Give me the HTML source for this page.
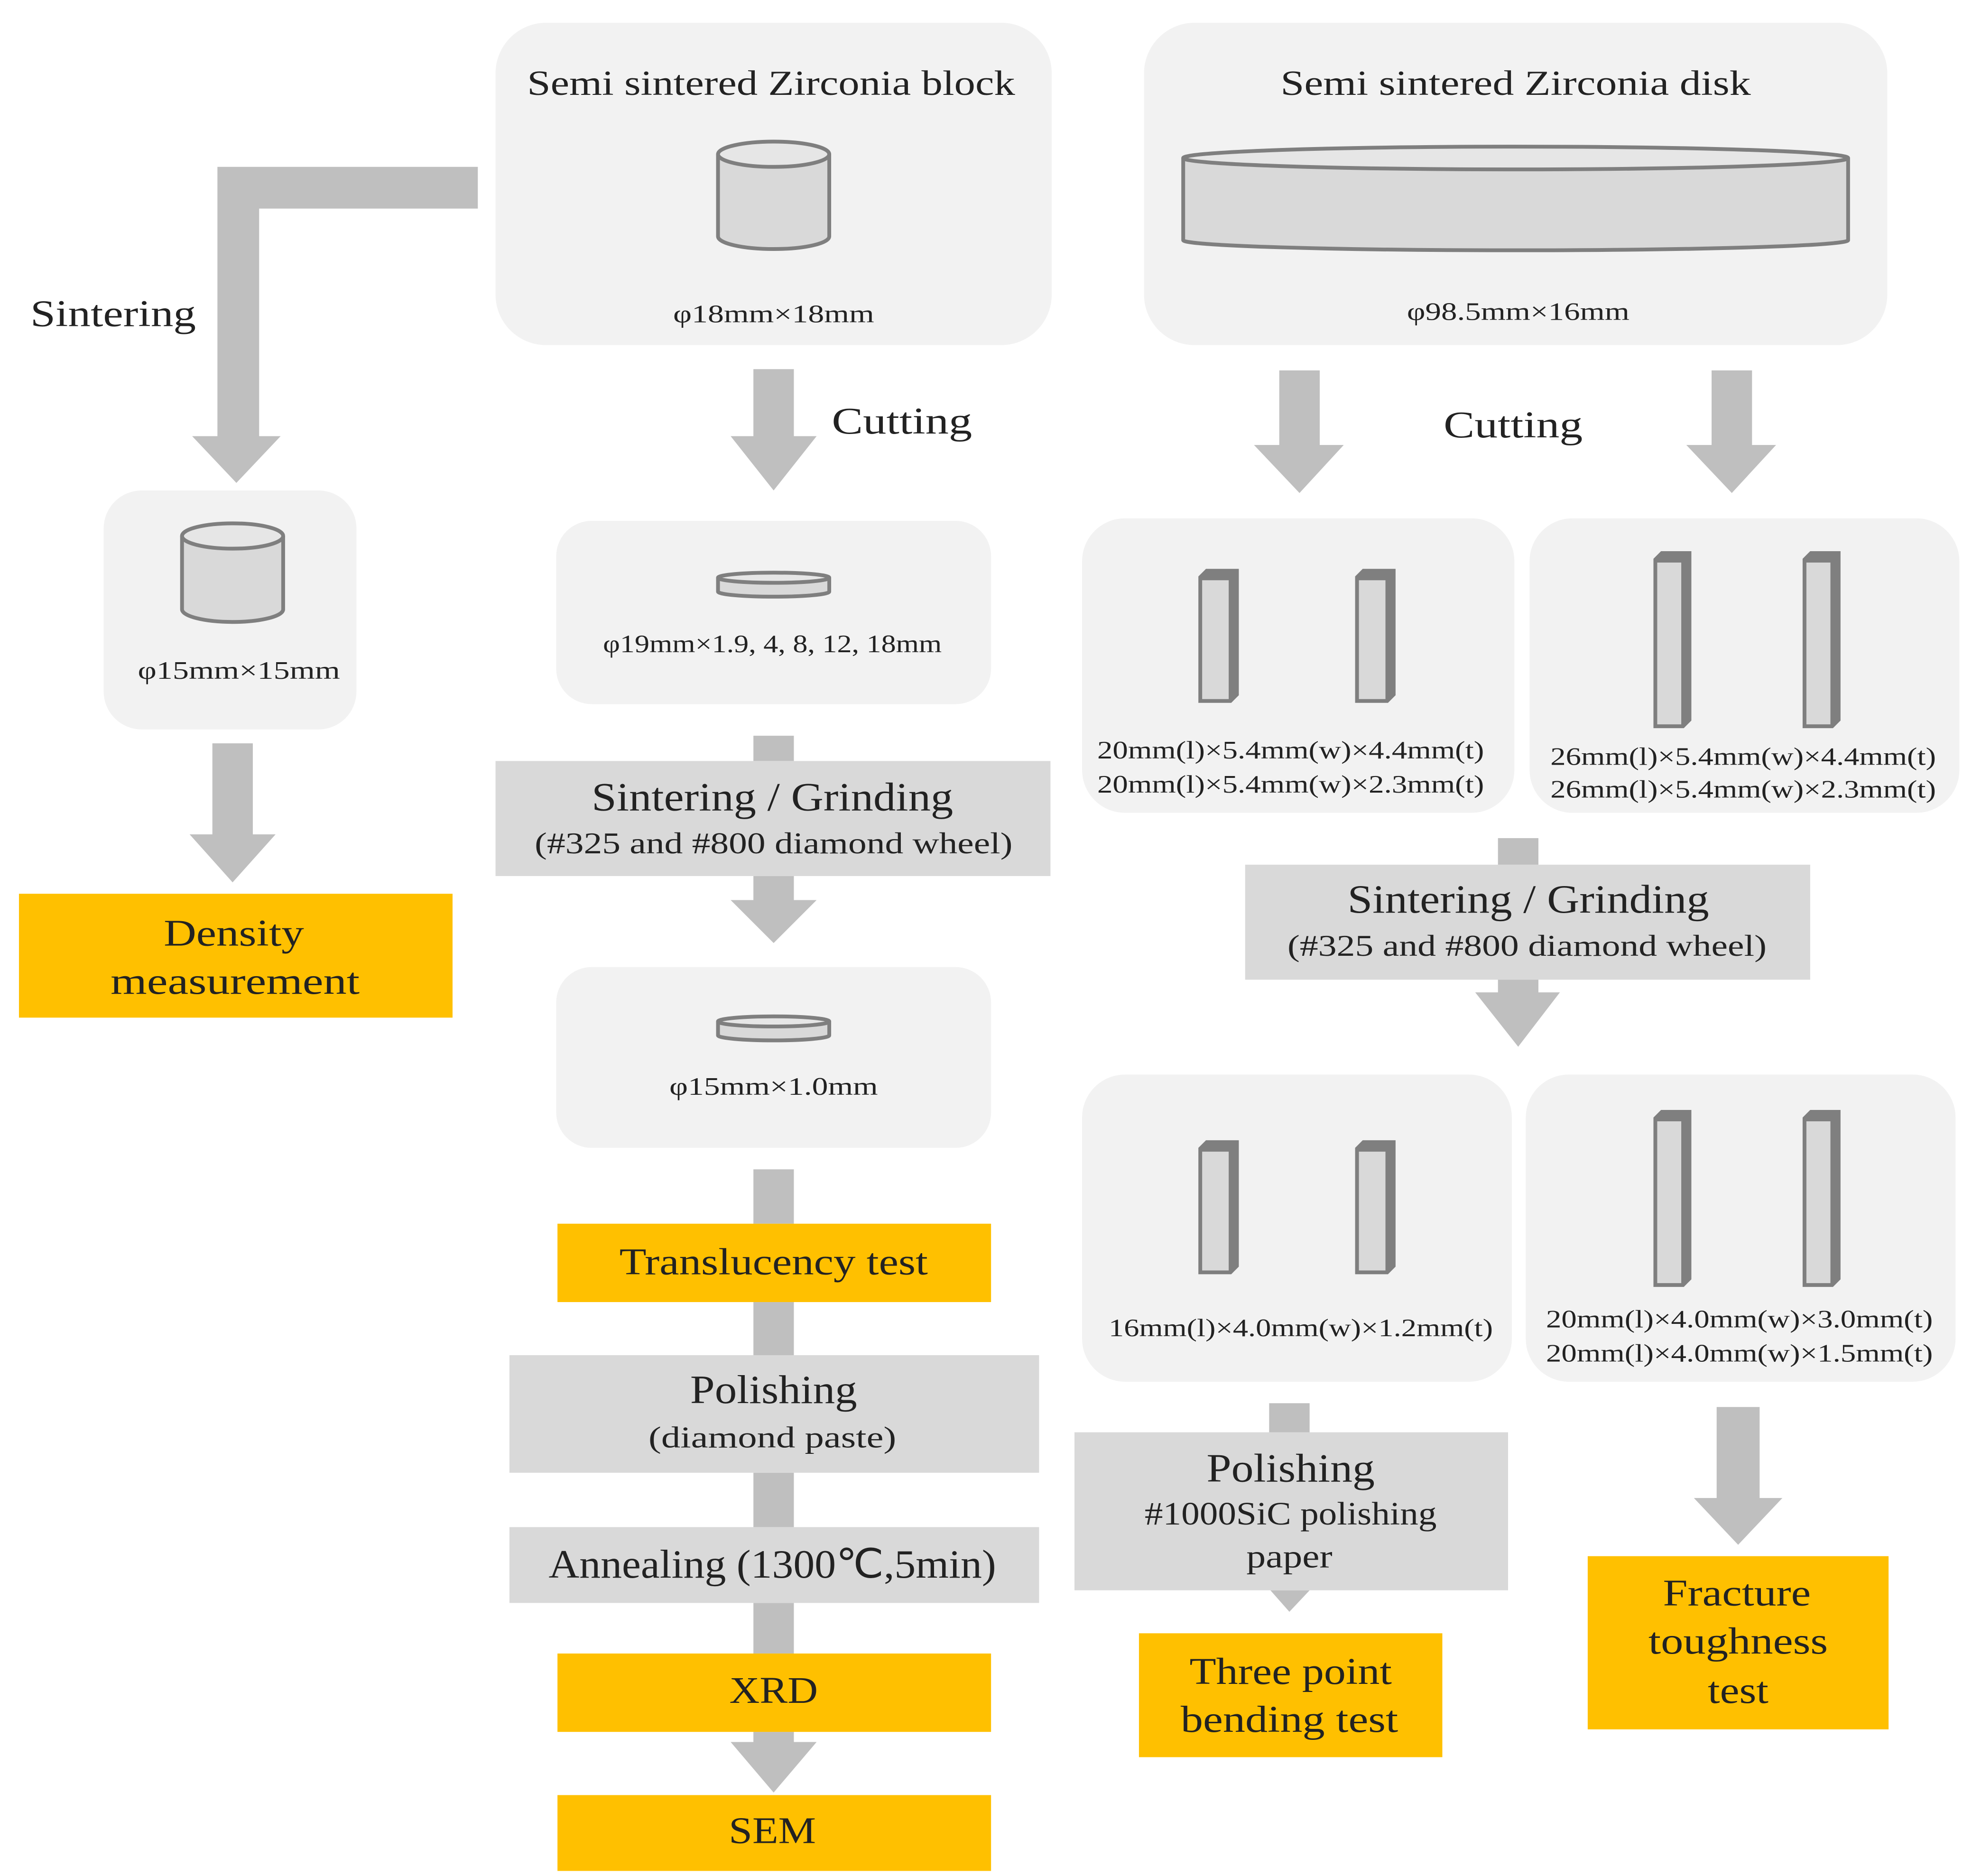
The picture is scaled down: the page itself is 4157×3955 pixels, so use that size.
<!DOCTYPE html>
<html><head><meta charset="utf-8"><style>
html,body{margin:0;padding:0;background:#fff}
svg{display:block}
text{font-family:"Liberation Serif",serif;fill:#222}
</style></head><body>
<svg width="4157" height="3955" viewBox="0 0 1560 1484" preserveAspectRatio="none" xmlns="http://www.w3.org/2000/svg">
<defs>
<g id="bar"><polygon points="0,6 6,0 32,0 32,100 26,106 0,106" fill="#7f7f7f"/><rect x="3" y="9" width="21" height="94" fill="#d9d9d9"/></g>
<g id="barL"><polygon points="0,6 6,0 30,0 30,134 24,140 0,140" fill="#7f7f7f"/><rect x="3" y="9" width="19" height="128" fill="#d9d9d9"/></g>
</defs>
<g fill="#f2f2f2">
<rect x="392" y="18" width="440" height="255" rx="40"/>
<rect x="905" y="18" width="588" height="255" rx="40"/>
<rect x="82" y="388" width="200" height="189" rx="30"/>
<rect x="440" y="412" width="344" height="145" rx="28"/>
<rect x="440" y="765" width="344" height="143" rx="28"/>
<rect x="856" y="410" width="342" height="233" rx="34"/>
<rect x="1210" y="410" width="340" height="233" rx="34"/>
<rect x="856" y="850" width="340" height="243" rx="34"/>
<rect x="1207" y="850" width="340" height="243" rx="34"/>
</g>
<g fill="#bfbfbf">
<path d="M378,132 H172 V345 H152 L187,382 L222,345 H205 V165 H378 Z"/>
<path d="M168,588 H200 V660 H218 L184,698 L150,660 H168 Z"/>
<path d="M596,292 H628 V345 H646 L612,388 L578,345 H596 Z"/>
<rect x="596" y="582" width="32" height="20"/>
<path d="M596,693 H628 V712 H646 L612,746 L578,712 H596 Z"/>
<rect x="596" y="925" width="32" height="43"/>
<rect x="596" y="1030" width="32" height="42"/>
<rect x="596" y="1165" width="32" height="43"/>
<rect x="596" y="1268" width="32" height="40"/>
<path d="M596,1370 H628 V1378 H646 L612,1418 L578,1378 H596 Z"/>
<path d="M1012,293 H1044 V352 H1063 L1028,390 L992,352 H1012 Z"/>
<path d="M1354,293 H1386 V352 H1405 L1370,390 L1334,352 H1354 Z"/>
<rect x="1185" y="663" width="32" height="21"/>
<path d="M1185,775 H1217 V785 H1234 L1201,828 L1167,785 H1185 Z"/>
<rect x="1004" y="1110" width="32" height="23"/>
<path d="M1005,1258 H1036 L1020,1275 Z"/>
<path d="M1358,1113 H1392 V1185 H1410 L1375,1222 L1340,1185 H1358 Z"/>
</g>
<g fill="#d9d9d9">
<rect x="392" y="602" width="439" height="91"/>
<rect x="403" y="1072" width="419" height="93"/>
<rect x="403" y="1208" width="419" height="60"/>
<rect x="985" y="684" width="447" height="91"/>
<rect x="850" y="1133" width="343" height="125"/>
</g>
<g fill="#ffc000">
<rect x="15" y="707" width="343" height="98"/>
<rect x="441" y="968" width="343" height="62"/>
<rect x="441" y="1308" width="343" height="62"/>
<rect x="441" y="1420" width="343" height="60"/>
<rect x="901" y="1292" width="240" height="98"/>
<rect x="1256" y="1231" width="238" height="137"/>
</g>
<g stroke="#7f7f7f" stroke-width="3" fill="#d9d9d9">
<path d="M568,122 V187 A44,10 0 0 0 656,187 V122"/><ellipse cx="612" cy="122" rx="44" ry="10" fill="#e6e6e6"/>
<path d="M144,424 V482 A40,10 0 0 0 224,482 V424"/><ellipse cx="184" cy="424" rx="40" ry="10" fill="#e6e6e6"/>
<path d="M936,125 V190 A263,8 0 0 0 1462,190 V125"/><ellipse cx="1199" cy="125" rx="263" ry="9" fill="#e6e6e6"/>
<path d="M568,457 V468 A44,4 0 0 0 656,468 V457"/><ellipse cx="612" cy="457" rx="44" ry="4" fill="#e6e6e6"/>
<path d="M568,808 V819 A44,4 0 0 0 656,819 V808"/><ellipse cx="612" cy="808" rx="44" ry="4" fill="#e6e6e6"/>
</g>
<use href="#bar" x="948" y="450"/><use href="#bar" x="1072" y="450"/>
<use href="#barL" x="1308" y="436"/><use href="#barL" x="1426" y="436"/>
<use href="#bar" x="948" y="902"/><use href="#bar" x="1072" y="902"/>
<use href="#barL" x="1308" y="878"/><use href="#barL" x="1426" y="878"/>
<g text-anchor="middle" lengthAdjust="spacingAndGlyphs">
<text x="610" y="75" font-size="28" textLength="386" lengthAdjust="spacingAndGlyphs">Semi sintered Zirconia block</text>
<text x="1199" y="75" font-size="28" textLength="372" lengthAdjust="spacingAndGlyphs">Semi sintered Zirconia disk</text>
<text x="612" y="255" font-size="20" textLength="159" lengthAdjust="spacingAndGlyphs">φ18mm×18mm</text>
<text x="1201" y="253" font-size="20" textLength="176" lengthAdjust="spacingAndGlyphs">φ98.5mm×16mm</text>
<text x="189" y="537" font-size="20" textLength="160" lengthAdjust="spacingAndGlyphs">φ15mm×15mm</text>
<text x="611" y="516" font-size="20" textLength="268" lengthAdjust="spacingAndGlyphs">φ19mm×1.9, 4, 8, 12, 18mm</text>
<text x="612" y="866" font-size="20" textLength="165" lengthAdjust="spacingAndGlyphs">φ15mm×1.0mm</text>
<text x="611" y="641" font-size="32" textLength="286" lengthAdjust="spacingAndGlyphs">Sintering / Grinding</text>
<text x="612" y="675" font-size="24" textLength="378" lengthAdjust="spacingAndGlyphs">(#325 and #800 diamond wheel)</text>
<text x="1209" y="722" font-size="32" textLength="286" lengthAdjust="spacingAndGlyphs">Sintering / Grinding</text>
<text x="1208" y="756" font-size="24" textLength="379" lengthAdjust="spacingAndGlyphs">(#325 and #800 diamond wheel)</text>
<text x="185" y="748" font-size="30" textLength="111" lengthAdjust="spacingAndGlyphs">Density</text>
<text x="186" y="786" font-size="30" textLength="197" lengthAdjust="spacingAndGlyphs">measurement</text>
<text x="612" y="1008" font-size="30" textLength="244" lengthAdjust="spacingAndGlyphs">Translucency test</text>
<text x="612" y="1110" font-size="32" textLength="132" lengthAdjust="spacingAndGlyphs">Polishing</text>
<text x="611" y="1145" font-size="24" textLength="196" lengthAdjust="spacingAndGlyphs">(diamond paste)</text>
<text x="611" y="1248" font-size="32" textLength="354" lengthAdjust="spacingAndGlyphs">Annealing (1300℃,5min)</text>
<text x="612" y="1347" font-size="30" textLength="70" lengthAdjust="spacingAndGlyphs">XRD</text>
<text x="611" y="1458" font-size="30" textLength="69" lengthAdjust="spacingAndGlyphs">SEM</text>
<text x="1021" y="600" font-size="20" textLength="306" lengthAdjust="spacingAndGlyphs">20mm(l)×5.4mm(w)×4.4mm(t)</text>
<text x="1021" y="627" font-size="20" textLength="306" lengthAdjust="spacingAndGlyphs">20mm(l)×5.4mm(w)×2.3mm(t)</text>
<text x="1379" y="605" font-size="20" textLength="305" lengthAdjust="spacingAndGlyphs">26mm(l)×5.4mm(w)×4.4mm(t)</text>
<text x="1379" y="631" font-size="20" textLength="305" lengthAdjust="spacingAndGlyphs">26mm(l)×5.4mm(w)×2.3mm(t)</text>
<text x="1029" y="1057" font-size="20" textLength="304" lengthAdjust="spacingAndGlyphs">16mm(l)×4.0mm(w)×1.2mm(t)</text>
<text x="1376" y="1050" font-size="20" textLength="306" lengthAdjust="spacingAndGlyphs">20mm(l)×4.0mm(w)×3.0mm(t)</text>
<text x="1376" y="1077" font-size="20" textLength="306" lengthAdjust="spacingAndGlyphs">20mm(l)×4.0mm(w)×1.5mm(t)</text>
<text x="1021" y="1172" font-size="32" textLength="133" lengthAdjust="spacingAndGlyphs">Polishing</text>
<text x="1021" y="1206" font-size="26" textLength="231" lengthAdjust="spacingAndGlyphs">#1000SiC polishing</text>
<text x="1020" y="1240" font-size="26" textLength="68" lengthAdjust="spacingAndGlyphs">paper</text>
<text x="1021" y="1332" font-size="30" textLength="160" lengthAdjust="spacingAndGlyphs">Three point</text>
<text x="1020" y="1370" font-size="30" textLength="172" lengthAdjust="spacingAndGlyphs">bending test</text>
<text x="1374" y="1270" font-size="30" textLength="117" lengthAdjust="spacingAndGlyphs">Fracture</text>
<text x="1375" y="1308" font-size="30" textLength="142" lengthAdjust="spacingAndGlyphs">toughness</text>
<text x="1375" y="1347" font-size="30" textLength="48" lengthAdjust="spacingAndGlyphs">test</text>
</g>
<text x="24" y="258" font-size="30" textLength="131" lengthAdjust="spacingAndGlyphs">Sintering</text>
<text x="658" y="343" font-size="30" textLength="111" lengthAdjust="spacingAndGlyphs">Cutting</text>
<text x="1142" y="346" font-size="30" textLength="110" lengthAdjust="spacingAndGlyphs">Cutting</text>
</svg>
</body></html>
